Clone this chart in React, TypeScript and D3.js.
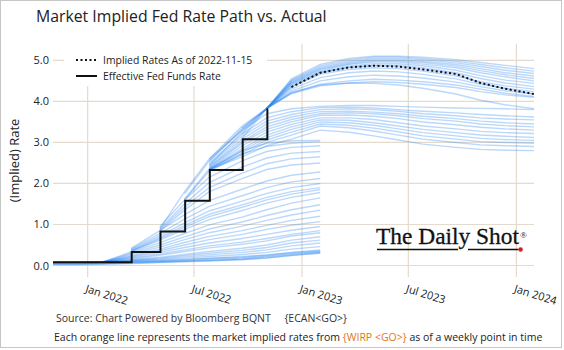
import React, { useEffect, useRef } from 'react';
import * as d3 from 'd3';

const W = 564;
const H = 350;
const FONT = '"Open Sans", "Noto Sans", sans-serif';
const GRID = '#e4dacd';
const BLUE = '#2b85f0';
const ORANGE = '#e0761c';
const TEXT = '#222';
const PLOT = { left: 53, right: 534, top: 44, bottom: 277 };

// FOMC meeting dates used as the x positions of every implied path
const MEETINGS = [
  '2021-11-03', '2021-12-15', '2022-01-26', '2022-03-16', '2022-05-04', '2022-06-15',
  '2022-07-27', '2022-09-21', '2022-11-02', '2022-12-14', '2023-02-01', '2023-03-22',
  '2023-05-03', '2023-06-14', '2023-07-26', '2023-09-20', '2023-11-01', '2023-12-13',
  '2024-01-31',
];

const X_TICKS = ['2022-01-01', '2022-07-01', '2023-01-01', '2023-07-01', '2024-01-01'];
const Y_TICKS = [0, 1, 2, 3, 4, 5];
const Y_DOMAIN = [-0.28, 5.4];

const EFFR_DATES = ['2021-11-03', '2022-03-17', '2022-05-05', '2022-06-16', '2022-07-28', '2022-09-22', '2022-11-03'];
const EFFR_VALUES = [0.08, 0.33, 0.83, 1.58, 2.33, 3.08, 3.83];

// implied path as of 2022-11-15 (starts at the Dec 2022 meeting)
const IMPLIED_FROM = 9;
const IMPLIED_VALUES = [4.35, 4.70, 4.83, 4.87, 4.85, 4.78, 4.67, 4.45, 4.31, 4.18];

// weekly WIRP paths; `from` = index of first meeting in MEETINGS
const EARLY_PATHS = [
  { from: 0, r: [0.02, 0.02, 0.03, 0.05, 0.07, 0.09, 0.11, 0.14, 0.18, 0.24, 0.30] },
  { from: 0, r: [0.03, 0.03, 0.04, 0.06, 0.08, 0.10, 0.12, 0.15, 0.19, 0.25, 0.31] },
  { from: 0, r: [0.04, 0.04, 0.05, 0.07, 0.09, 0.11, 0.13, 0.16, 0.21, 0.27, 0.33] },
  { from: 0, r: [0.05, 0.05, 0.06, 0.08, 0.10, 0.12, 0.15, 0.18, 0.23, 0.29, 0.34] },
  { from: 0, r: [0.06, 0.06, 0.07, 0.09, 0.11, 0.14, 0.17, 0.20, 0.25, 0.31, 0.36] },
  { from: 0, r: [0.06, 0.07, 0.08, 0.10, 0.12, 0.15, 0.18, 0.22, 0.26, 0.32, 0.38] },
  { from: 0, r: [0.07, 0.07, 0.08, 0.11, 0.14, 0.18, 0.22, 0.27, 0.32, 0.40, 0.46] },
  { from: 0, r: [0.07, 0.08, 0.08, 0.12, 0.16, 0.21, 0.26, 0.32, 0.38, 0.48, 0.55] },
  { from: 0, r: [0.08, 0.08, 0.08, 0.13, 0.18, 0.24, 0.30, 0.37, 0.44, 0.55, 0.62] },
  { from: 0, r: [0.08, 0.08, 0.09, 0.14, 0.20, 0.27, 0.34, 0.42, 0.50, 0.62, 0.70] },
  { from: 2, r: [0.08, 0.16, 0.25, 0.34, 0.43, 0.52, 0.60, 0.72, 0.80] },
  { from: 2, r: [0.08, 0.18, 0.28, 0.38, 0.48, 0.57, 0.66, 0.76, 0.85] },
  { from: 2, r: [0.08, 0.20, 0.32, 0.44, 0.55, 0.66, 0.76, 0.86, 0.95] },
  { from: 2, r: [0.08, 0.22, 0.36, 0.50, 0.63, 0.76, 0.88, 0.98, 1.07] },
  { from: 2, r: [0.08, 0.24, 0.40, 0.56, 0.71, 0.85, 0.98, 1.10, 1.20] },
  { from: 2, r: [0.08, 0.27, 0.45, 0.63, 0.80, 0.96, 1.10, 1.23, 1.35] },
  { from: 2, r: [0.08, 0.30, 0.50, 0.70, 0.89, 1.06, 1.22, 1.36, 1.48] },
  { from: 2, r: [0.08, 0.33, 0.56, 0.78, 0.99, 1.18, 1.36, 1.52, 1.65] },
  { from: 3, r: [0.35, 0.62, 0.88, 1.12, 1.34, 1.52, 1.66, 1.78] },
  { from: 3, r: [0.35, 0.65, 0.93, 1.19, 1.42, 1.60, 1.74, 1.85] },
  { from: 3, r: [0.36, 0.68, 0.98, 1.25, 1.48, 1.66, 1.80, 1.90] },
  { from: 3, r: [0.38, 0.72, 1.04, 1.33, 1.57, 1.76, 1.90, 2.00] },
  { from: 3, r: [0.40, 0.78, 1.13, 1.44, 1.70, 1.90, 2.04, 2.12] },
  { from: 3, r: [0.42, 0.85, 1.24, 1.58, 1.86, 2.06, 2.20, 2.28] },
  { from: 4, r: [0.85, 1.35, 1.80, 2.12, 2.34, 2.45, 2.50] },
  { from: 4, r: [0.88, 1.42, 1.90, 2.25, 2.48, 2.60, 2.65] },
  { from: 4, r: [0.90, 1.50, 2.02, 2.40, 2.62, 2.74, 2.78] },
  { from: 4, r: [0.95, 1.60, 2.15, 2.55, 2.78, 2.88, 2.92] },
  { from: 5, r: [1.60, 2.30, 2.72, 2.90, 2.98, 3.02] },
  { from: 5, r: [1.62, 2.35, 2.80, 2.98, 3.04, 3.05] },
];

const MID_PATHS = [
  { from: 6, r: [2.55, 3.30, 3.70, 3.82, 3.88, 3.90, 3.90, 3.88, 3.86, 3.84, 3.83, 3.82, 3.80] },
  { from: 6, r: [2.50, 3.20, 3.60, 3.75, 3.85, 3.86, 3.84, 3.80, 3.76, 3.72, 3.68, 3.65, 3.62] },
  { from: 6, r: [2.45, 3.15, 3.52, 3.68, 3.80, 3.82, 3.80, 3.76, 3.70, 3.65, 3.60, 3.57, 3.55] },
  { from: 6, r: [2.42, 3.08, 3.45, 3.62, 3.75, 3.76, 3.74, 3.70, 3.64, 3.58, 3.52, 3.48, 3.45] },
  { from: 6, r: [2.40, 3.02, 3.38, 3.56, 3.70, 3.72, 3.70, 3.65, 3.58, 3.52, 3.45, 3.41, 3.38] },
  { from: 6, r: [2.38, 2.98, 3.32, 3.50, 3.66, 3.67, 3.64, 3.58, 3.50, 3.43, 3.37, 3.33, 3.30] },
  { from: 6, r: [2.36, 2.92, 3.25, 3.44, 3.60, 3.60, 3.56, 3.48, 3.40, 3.33, 3.27, 3.24, 3.22] },
  { from: 6, r: [2.35, 2.85, 3.18, 3.38, 3.55, 3.54, 3.48, 3.40, 3.32, 3.24, 3.18, 3.15, 3.12] },
  { from: 6, r: [2.34, 2.80, 3.12, 3.32, 3.50, 3.48, 3.42, 3.33, 3.24, 3.16, 3.10, 3.07, 3.05] },
  { from: 6, r: [2.34, 2.75, 3.06, 3.25, 3.45, 3.42, 3.35, 3.26, 3.16, 3.08, 3.02, 3.00, 2.98] },
  { from: 6, r: [2.33, 2.70, 3.00, 3.18, 3.40, 3.36, 3.28, 3.18, 3.08, 3.00, 2.94, 2.92, 2.90] },
  { from: 6, r: [2.33, 2.65, 2.92, 3.08, 3.30, 3.25, 3.16, 3.06, 2.96, 2.88, 2.83, 2.81, 2.80] },
];

const LATE_PATHS = [
  { from: 6, r: [2.60, 3.30, 3.83, 4.55, 4.90, 5.05, 5.10, 5.10, 5.08, 5.02, 4.95, 4.88, 4.80] },
  { from: 7, r: [3.20, 3.83, 4.52, 4.86, 5.02, 5.08, 5.08, 5.05, 4.98, 4.90, 4.82, 4.74] },
  { from: 5, r: [1.75, 2.55, 3.35, 3.83, 4.50, 4.83, 4.98, 5.05, 5.05, 5.02, 4.94, 4.85, 4.76, 4.68] },
  { from: 7, r: [3.35, 3.83, 4.48, 4.80, 4.95, 5.02, 5.02, 4.98, 4.90, 4.80, 4.70, 4.62] },
  { from: 4, r: [0.90, 1.80, 2.60, 3.40, 3.83, 4.46, 4.78, 4.92, 4.99, 4.99, 4.95, 4.86, 4.75, 4.65, 4.56] },
  { from: 7, r: [3.10, 3.83, 4.44, 4.75, 4.90, 4.96, 4.96, 4.91, 4.82, 4.70, 4.60, 4.50] },
  { from: 6, r: [2.45, 3.25, 3.83, 4.42, 4.72, 4.86, 4.92, 4.92, 4.87, 4.76, 4.63, 4.52, 4.44] },
  { from: 8, r: [3.83, 4.40, 4.70, 4.83, 4.88, 4.88, 4.82, 4.70, 4.56, 4.45, 4.36] },
  { from: 8, r: [3.83, 4.35, 4.70, 4.83, 4.87, 4.85, 4.78, 4.67, 4.45, 4.31, 4.18] },
  { from: 8, r: [3.83, 4.36, 4.66, 4.78, 4.82, 4.80, 4.74, 4.62, 4.48, 4.38, 4.30] },
  { from: 8, r: [3.83, 4.30, 4.58, 4.70, 4.74, 4.72, 4.66, 4.55, 4.42, 4.32, 4.24] },
  { from: 8, r: [3.83, 4.25, 4.50, 4.60, 4.64, 4.62, 4.57, 4.47, 4.36, 4.26, 4.18] },
  { from: 8, r: [3.83, 4.20, 4.42, 4.50, 4.54, 4.52, 4.48, 4.40, 4.30, 4.20, 4.12] },
  { from: 8, r: [3.83, 4.19, 4.38, 4.45, 4.48, 4.46, 4.42, 4.34, 4.24, 4.16, 4.10] },
  { from: 8, r: [3.83, 4.22, 4.40, 4.45, 4.44, 4.40, 4.32, 4.18, 4.03, 3.92, 3.82] },
];

const parse = d3.timeParse('%Y-%m-%d');

const App: React.FC = () => {
  const svgRef = useRef<SVGSVGElement>(null);

  useEffect(() => {
    const svg = d3.select(svgRef.current);
    svg.selectAll('*').remove();

    const meetingDates = MEETINGS.map(d => parse(d) as Date);
    const x = d3.scaleTime()
      .domain([meetingDates[0], meetingDates[meetingDates.length - 1]])
      .range([PLOT.left, PLOT.right]);
    const y = d3.scaleLinear().domain(Y_DOMAIN).range([PLOT.bottom, PLOT.top]);

    svg.append('rect').attr('x', 0.5).attr('y', 0.5).attr('width', W - 3).attr('height', H - 3)
      .attr('fill', '#fff').attr('stroke', '#c6c6c6');

    // Title
    svg.append('text')
      .attr('x', 36).attr('y', 22)
      .attr('font-size', 15.8).attr('fill', TEXT)
      .text('Market Implied Fed Rate Path vs. Actual');

    // Grid
    const grid = svg.append('g');
    Y_TICKS.forEach(t => {
      grid.append('line')
        .attr('x1', PLOT.left).attr('x2', PLOT.right)
        .attr('y1', y(t)).attr('y2', y(t))
        .attr('stroke', GRID).attr('stroke-width', 1.2);
    });
    X_TICKS.forEach(t => {
      const xx = x(parse(t) as Date);
      grid.append('line')
        .attr('x1', xx).attr('x2', xx)
        .attr('y1', PLOT.top).attr('y2', PLOT.bottom)
        .attr('stroke', GRID).attr('stroke-width', 1.2);
    });

    // Y tick labels
    Y_TICKS.forEach(t => {
      svg.append('text')
        .attr('x', 49).attr('y', y(t) + 4)
        .attr('text-anchor', 'end').attr('font-size', 11).attr('fill', TEXT)
        .text(d3.format('.1f')(t));
    });

    // X tick labels, tilted
    const fmt = d3.timeFormat('%b %Y');
    X_TICKS.forEach(t => {
      const d = parse(t) as Date;
      svg.append('text')
        .attr('transform', `translate(${x(d) - 3},${292}) rotate(17)`)
        .attr('font-size', 11).attr('fill', TEXT)
        .text(fmt(d));
    });

    // Y axis title
    svg.append('text')
      .attr('transform', `translate(19,${(PLOT.top + PLOT.bottom) / 2}) rotate(-90)`)
      .attr('text-anchor', 'middle').attr('font-size', 13).attr('fill', TEXT)
      .text('(Implied) Rate');

    // Weekly implied paths
    const pathG = svg.append('g');
    [...EARLY_PATHS, ...MID_PATHS, ...LATE_PATHS].forEach(p => {
      const line = d3.line<number>()
        .x((_, i) => x(meetingDates[p.from + i]))
        .y(v => y(v));
      pathG.append('path')
        .datum(p.r)
        .attr('fill', 'none')
        .attr('stroke', BLUE)
        .attr('stroke-opacity', 0.32)
        .attr('stroke-width', 1.4)
        .attr('d', line);
    });

    // Effective fed funds rate (step)
    const effr = EFFR_DATES.map((d, i) => ({ d: parse(d) as Date, v: EFFR_VALUES[i] }));
    svg.append('path')
      .datum(effr)
      .attr('fill', 'none').attr('stroke', '#111').attr('stroke-width', 2)
      .attr('d', d3.line<{ d: Date; v: number }>().x(p => x(p.d)).y(p => y(p.v)).curve(d3.curveStepAfter));

    // Implied as of 2022-11-15 (dotted)
    svg.append('path')
      .datum(IMPLIED_VALUES)
      .attr('fill', 'none').attr('stroke', '#111').attr('stroke-width', 2)
      .attr('stroke-dasharray', '2,2.5')
      .attr('d', d3.line<number>().x((_, i) => x(meetingDates[IMPLIED_FROM + i])).y(v => y(v)));

    // Legend
    const lg = svg.append('g');
    lg.append('rect').attr('x', 64).attr('y', PLOT.top).attr('width', 203).attr('height', 42).attr('fill', '#fff');
    lg.append('line').attr('x1', 76).attr('x2', 97).attr('y1', 60).attr('y2', 60)
      .attr('stroke', '#111').attr('stroke-width', 2).attr('stroke-dasharray', '2,2.5');
    lg.append('text').attr('x', 103).attr('y', 64).attr('font-size', 10.4).attr('fill', TEXT)
      .text('Implied Rates As of 2022-11-15');
    lg.append('line').attr('x1', 76).attr('x2', 97).attr('y1', 76).attr('y2', 76)
      .attr('stroke', '#111').attr('stroke-width', 2);
    lg.append('text').attr('x', 103).attr('y', 80).attr('font-size', 10.4).attr('fill', TEXT)
      .text('Effective Fed Funds Rate');

    // Logo
    const logo = svg.append('g');
    logo.append('text')
      .attr('x', 376).attr('y', 244)
      .attr('font-family', '"Liberation Serif", "DejaVu Serif", serif')
      .attr('font-size', 23.5).attr('fill', '#111')
      .attr('stroke', '#111').attr('stroke-width', 0.3)
      .attr('textLength', 143).attr('lengthAdjust', 'spacingAndGlyphs')
      .text('The Daily Shot');
    logo.append('line').attr('x1', 377).attr('x2', 458).attr('y1', 249.5).attr('y2', 249.5)
      .attr('stroke', '#111').attr('stroke-width', 1.3);
    logo.append('line').attr('x1', 468).attr('x2', 518).attr('y1', 249.5).attr('y2', 249.5)
      .attr('stroke', '#111').attr('stroke-width', 1.3);
    logo.append('circle').attr('cx', 520.5).attr('cy', 249.5).attr('r', 2.3).attr('fill', '#d71920');
    logo.append('text').attr('x', 520).attr('y', 238)
      .attr('font-family', '"Liberation Serif", serif').attr('font-size', 9).attr('fill', '#111')
      .text('®');

    // Footer notes
    svg.append('text')
      .attr('x', 56).attr('y', 322).attr('font-size', 10.5).attr('fill', '#333')
      .text('Source: Chart Powered by Bloomberg BQNT\u00a0\u00a0\u00a0\u00a0\u00a0{ECAN<GO>}');
    const note = svg.append('text')
      .attr('x', 54).attr('y', 341).attr('font-size', 10.5).attr('fill', '#222');
    note.append('tspan').text('Each orange line represents the market implied rates from ');
    note.append('tspan').attr('fill', ORANGE).text('{WIRP <GO>}');
    note.append('tspan').text(' as of a weekly point in time');
  }, []);

  return (
    <svg ref={svgRef} width={W} height={H}
      style={{ display: 'block', position: 'absolute', left: 0, top: 0, fontFamily: FONT }} />
  );
};

export default App;
